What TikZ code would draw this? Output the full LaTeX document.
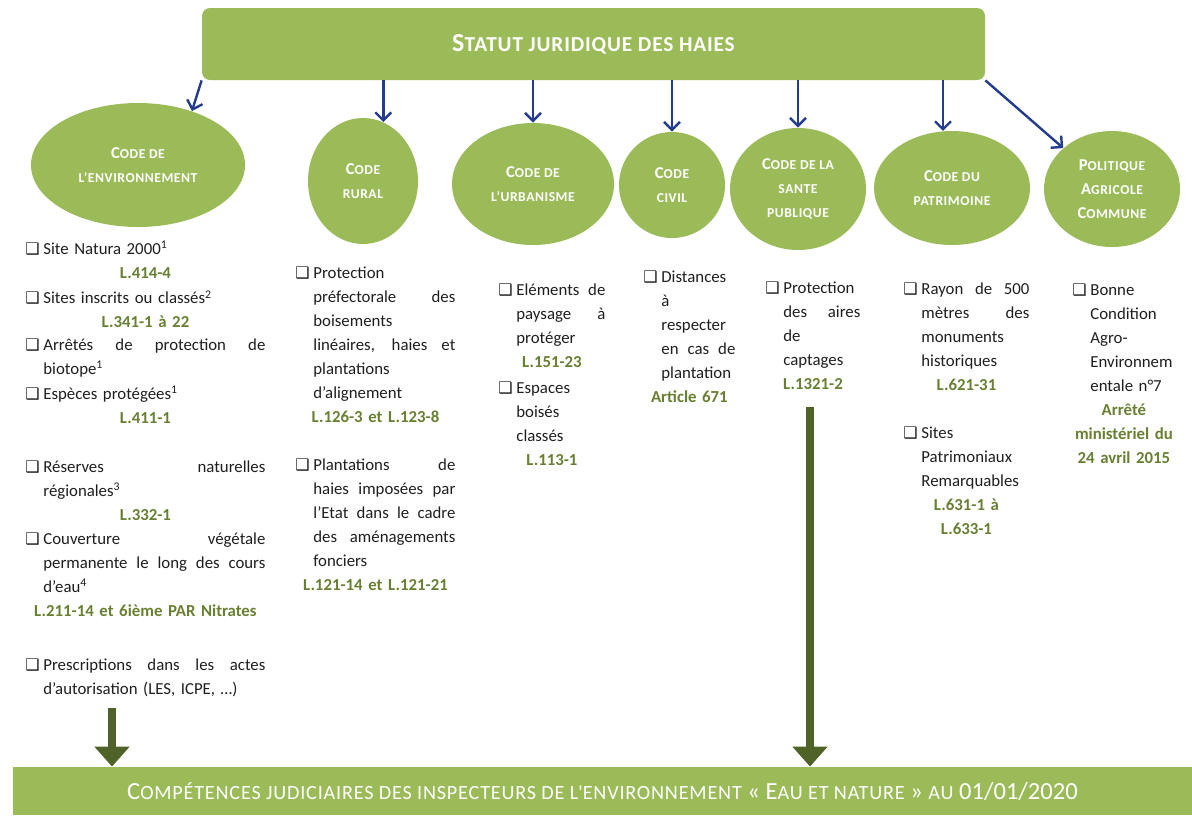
\documentclass[tikz,border=0pt]{standalone}
\usepackage{fontspec}
\setmainfont{Carlito}
\newfontfamily\symbolfont{DejaVu Sans}
\usetikzlibrary{arrows.meta, shapes.geometric, positioning, calc}
\definecolor{haiegreen}{RGB}{155, 187, 89}
\definecolor{refgreen}{RGB}{104, 128, 50}
\definecolor{arrowblue}{RGB}{36, 60, 140}
\definecolor{darkolive}{RGB}{79, 98, 40}
\definecolor{bodygray}{RGB}{30, 30, 30}
% fake small caps
\newcommand{\scs}[1]{{\fontsize{\fpeval{0.82*\csname f@size\endcsname}}{1}\selectfont\addfontfeature{LetterSpace=4}#1}}
\newcommand{\chk}{{\symbolfont\fontsize{8}{8}\selectfont ❑}}
\newcommand{\jst}[1]{\makebox[\dimexpr\hsize-\hangindent\relax][s]{\spaceskip=0pt\xspaceskip=0pt #1}}
\newcommand{\nl}{\newline}
\newcommand{\entry}[1]{\hangindent=9pt\hangafter=0\noindent\llap{\makebox[9pt][l]{\chk}}#1\par}
\newcommand{\refline}[1]{{\centering\color{refgreen}\bfseries #1\par}}

\begin{document}
\begin{tikzpicture}[x=0.5pt, y=-0.5pt,
    codeell/.style={ellipse, fill=haiegreen, inner sep=0pt, text=white, align=center,
      font=\bfseries\fontsize{8.3}{12}\selectfont},
    link/.style={arrowblue, line width=1.2pt, -{Straight Barb[length=4pt, width=8pt]}},
    bigarrow/.style={darkolive, line width=4pt, -{Triangle[length=10pt, width=17pt]}},
    entrybox/.style={anchor=north west, inner sep=0pt, align=left, text=bodygray,
      font=\fontsize{8.4}{12}\selectfont}]
  \useasboundingbox (0,0) rectangle (1192,815);

  % title and bottom bar
  \node[fill=haiegreen, rounded corners=4pt, minimum width=391.5pt, minimum height=36pt,
    text=white, font=\bfseries\fontsize{13}{15}\selectfont] (statut) at (593.5,44)
    {S\scs{TATUT JURIDIQUE DES HAIES}};
  \node[fill=haiegreen, minimum width=589.5pt, minimum height=24pt, inner sep=0pt,
    text=white, font=\fontsize{12.3}{14}\selectfont] (competences) at (602.5,791)
    {C\scs{OMPÉTENCES JUDICIAIRES DES INSPECTEURS DE L\textquotesingle ENVIRONNEMENT} « E\scs{AU ET NATURE} » \scs{AU} 01/01/2020};

  % codes
  \node[codeell, minimum width=107pt, minimum height=62pt] (env) at (138,165) {C\scs{ODE DE}\\\scs{L’ENVIRONNEMENT}};
  \node[codeell, minimum width=55pt, minimum height=63pt] (rural) at (363,181) {C\scs{ODE}\\\scs{RURAL}};
  \node[codeell, minimum width=81pt, minimum height=61pt] (urb) at (533,184) {C\scs{ODE DE}\\\scs{L’URBANISME}};
  \node[codeell, minimum width=53pt, minimum height=53pt] (civil) at (672,185) {C\scs{ODE}\\\scs{CIVIL}};
  \node[codeell, minimum width=68pt, minimum height=61pt] (sante) at (798,189) {C\scs{ODE DE LA}\\\scs{SANTE}\\\scs{PUBLIQUE}};
  \node[codeell, minimum width=78pt, minimum height=57pt] (patri) at (952,188) {C\scs{ODE DU}\\\scs{PATRIMOINE}};
  \node[codeell, minimum width=68pt, minimum height=58pt] (pac) at (1112,189) {P\scs{OLITIQUE}\\A\scs{GRICOLE}\\C\scs{OMMUNE}};

  \draw[link] (statut.south west) -- (env.45);
  \draw[link] (statut.south -| rural.71) -- (rural.71);
  \draw[link] (statut.south -| urb.north) -- (urb.north);
  \draw[link] (statut.south -| civil.north) -- (civil.north);
  \draw[link] (statut.south -| sante.north) -- (sante.north);
  \draw[link] (statut.south -| patri.99) -- (patri.99);
  \draw[link] (statut.south east) -- (pac.140);

  % code de l'environnement
  \node[entrybox, text width=120pt] (natura) at (25,241) {\entry{Site Natura 2000\textsuperscript{1}}\refline{L.414-4}};
  \node[entrybox, text width=120pt] (sites) at (25,290) {\entry{Sites inscrits ou classés\textsuperscript{2}}\refline{L.341-1 à 22}};
  \node[entrybox, text width=120pt] (biotope) at (25,338) {\entry{\jst{Arrêtés de protection de}\nl biotope\textsuperscript{1}}};
  \node[entrybox, text width=120pt] (especes) at (25,386) {\entry{Espèces protégées\textsuperscript{1}}\refline{L.411-1}};
  \node[entrybox, text width=120pt] (reserves) at (25,460) {\entry{\jst{Réserves naturelles}\nl régionales\textsuperscript{3}}\refline{L.332-1}};
  \node[entrybox, text width=120pt] (couverture) at (25,532) {\entry{\jst{Couverture végétale}\nl \jst{permanente le long des cours}\nl d’eau\textsuperscript{4}}\refline{L.211-14 et 6ième PAR Nitrates}};
  \node[entrybox, text width=120pt] (prescriptions) at (25,658) {\entry{\jst{Prescriptions dans les actes}\nl d’autorisation (LES, ICPE, …)}};

  % code rural
  \node[entrybox, text width=80pt] (boisements) at (295,266) {\entry{Protection\nl \jst{préfectorale des}\nl boisements\nl \jst{linéaires, haies et}\nl plantations\nl d’alignement}\refline{L.126-3 et L.123-8}};
  \node[entrybox, text width=80pt] (plantations) at (295,458) {\entry{\jst{Plantations de}\nl \jst{haies imposées par}\nl \jst{l’Etat dans le cadre}\nl \jst{des aménagements}\nl fonciers}\refline{L.121-14 et L.121-21}};

  % code de l'urbanisme
  \node[entrybox, text width=53.5pt] (paysage) at (498,283) {\entry{\jst{Eléments de}\nl \jst{paysage à}\nl protéger}\refline{L.151-23}};
  \node[entrybox, text width=53.5pt] (espaces) at (498,381) {\entry{Espaces\nl boisés\nl classés}\refline{L.113-1}};

  % code civil
  \node[entrybox, text width=46pt] (distances) at (643,270) {\entry{Distances\nl à\nl respecter\nl \jst{en cas de}\nl plantation}\refline{Article 671}};

  % sante publique
  \node[entrybox, text width=47.5pt] (captages) at (765,281) {\entry{Protection\nl \jst{des aires}\nl de\nl captages}\refline{L.1321-2}};

  % patrimoine
  \node[entrybox, text width=63pt] (rayon) at (903,282) {\entry{\jst{Rayon de 500}\nl \jst{mètres des}\nl monuments\nl historiques}\refline{L.621-31}};
  \node[entrybox, text width=63pt] (remarquables) at (903,426) {\entry{Sites\nl Patrimoniaux\nl Remarquables}\refline{L.631-1 à\\ L.633-1}};

  % PAC
  \node[entrybox, text width=51.5pt] (bcae) at (1072,283) {\entry{Bonne\nl Condition\nl Agro-\nl Environnem\nl entale n°7}\refline{Arrêté\\ ministériel du\\ 24 avril 2015}};

  % toward the judicial competences
  \coordinate (envtail) at (112,708);
  \coordinate (santetail) at (810,407);
  \draw[bigarrow] (envtail) -- (envtail |- competences.north);
  \draw[bigarrow] (santetail) -- (santetail |- competences.north);
\end{tikzpicture}
\end{document}
